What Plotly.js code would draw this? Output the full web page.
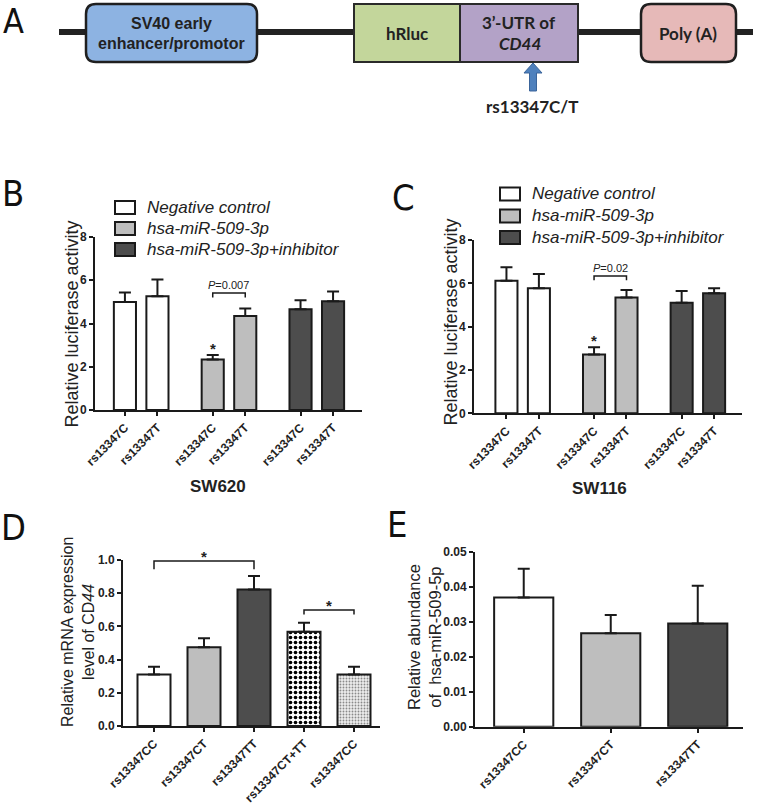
<!DOCTYPE html>
<html><head><meta charset="utf-8">
<script src="https://cdn.plot.ly/plotly-3.0.1.min.js"></script>
<style>body{margin:0;background:#fff}#chart{width:759px;height:806px}</style>
</head><body><div id="chart"></div>
<script>
// ---------- DATA ----------
const alleleLabels = ['rs13347C', 'rs13347T'];
const seriesNames = ['Negative control', 'hsa-miR-509-3p', 'hsa-miR-509-3p+inhibitor'];
// Panel B: SW620
const sw620Negative = [5.00, 5.26];
const sw620NegativeErr = [0.43, 0.77];
const sw620Mir = [2.34, 4.35];
const sw620MirErr = [0.20, 0.34];
const sw620Inhib = [4.66, 5.03];
const sw620InhibErr = [0.42, 0.45];
// Panel C: SW116
const sw116Negative = [6.12, 5.77];
const sw116NegativeErr = [0.62, 0.66];
const sw116Mir = [2.72, 5.35];
const sw116MirErr = [0.33, 0.34];
const sw116Inhib = [5.10, 5.54];
const sw116InhibErr = [0.54, 0.23];
// Panel D: CD44 mRNA
const genotypeLabelsD = ['rs13347CC', 'rs13347CT', 'rs13347TT', 'rs13347CT+TT', 'rs13347CC'];
const cd44Expr = [0.31, 0.474, 0.823, 0.568, 0.31];
const cd44Err = [0.047, 0.054, 0.081, 0.054, 0.047];
// Panel E: hsa-miR-509-5p abundance
const genotypeLabelsE = ['rs13347CC', 'rs13347CT', 'rs13347TT'];
const mirAbundance = [0.0369, 0.0267, 0.0295];
const mirAbundanceErr = [0.0082, 0.0052, 0.0108];

// ---------- STYLE ----------
const W = 759, H = 806;
const px = x => x / W;
const py = y => 1 - y / H;
const ARIAL = 'Liberation Sans, Arial, sans-serif';
const CAL = 'Lato, Carlito, sans-serif';
const NARROW = 'Liberation Sans Narrow, DejaVu Sans Condensed, sans-serif';
const INK = '#1a1a1a';
const fills = ['#ffffff', '#bebebe', '#4d4d4d'];
const GROUP_STEP = 2.7;

function errY(arr) {
  return {type: 'data', symmetric: false, array: arr, arrayminus: arr.map(() => 0),
          color: INK, thickness: 2, width: 6};
}
function pos(g) { return alleleLabels.map((_, i) => g * GROUP_STEP + i); }

const traces = [];
function luciferaseTraces(means, errs, xa, ya) {
  means.forEach((m, g) => {
    traces.push({type: 'bar', x: pos(g), y: m, name: seriesNames[g], xaxis: xa, yaxis: ya,
      width: 0.68, marker: {color: fills[g], line: {color: INK, width: 2}},
      error_y: errY(errs[g]), showlegend: false});
  });
}
luciferaseTraces([sw620Negative, sw620Mir, sw620Inhib], [sw620NegativeErr, sw620MirErr, sw620InhibErr], 'x', 'y');
luciferaseTraces([sw116Negative, sw116Mir, sw116Inhib], [sw116NegativeErr, sw116MirErr, sw116InhibErr], 'x2', 'y2');

// Panel D: one trace per bar so each bar keeps its own fill / pattern
const dIdx = genotypeLabelsD.map((_, i) => i);
const dFill = ['#ffffff', '#bebebe', '#4d4d4d', '#ffffff', '#ededed'];
const dPattern = [null, null, null,
  {shape: '.', fgcolor: '#000000', bgcolor: '#ffffff', size: 5, solidity: 0.42},
  {shape: '.', fgcolor: '#8a8a8a', bgcolor: '#ededed', size: 3, solidity: 0.3}];
dIdx.forEach(i => {
  const marker = {color: dFill[i], line: {color: INK, width: 2}};
  if (dPattern[i]) marker.pattern = dPattern[i];
  traces.push({type: 'bar', x: [i], y: [cd44Expr[i]], name: genotypeLabelsD[i], xaxis: 'x3', yaxis: 'y3',
    width: 0.66, marker, error_y: errY([cd44Err[i]]), showlegend: false});
});

const eIdx = genotypeLabelsE.map((_, i) => i);
traces.push({type: 'bar', x: eIdx, y: mirAbundance, xaxis: 'x4', yaxis: 'y4', width: 0.68,
  marker: {color: fills, line: {color: INK, width: 2}},
  error_y: errY(mirAbundanceErr), showlegend: false});

// ---------- AXES ----------
const base = {showline: true, linecolor: INK, linewidth: 2, ticks: 'outside', ticklen: 4,
  tickwidth: 2, tickcolor: INK, showgrid: false, zeroline: false, automargin: false, fixedrange: true};
const xTickFont = {family: ARIAL, size: 12, color: '#222', weight: 'bold'};
const yTickFont = {family: ARIAL, size: 12, color: '#222', weight: 'bold'};
const lucPos = [0, 1, 2].flatMap(g => pos(g));
const lucText = [0, 1, 2].flatMap(() => alleleLabels);

function xax(domain, range, vals, text, anchor) {
  return Object.assign({}, base, {domain, range, tickmode: 'array', tickvals: vals, ticktext: text,
    tickangle: -45, tickfont: xTickFont, anchor});
}
function yax(top, bottom, range, dtick, fmt, anchor) {
  return Object.assign({}, base, {domain: [py(bottom), py(top)], range, dtick, tick0: 0,
    tickformat: fmt, tickfont: yTickFont, anchor});
}

// ---------- PANEL A + ANNOTATION SHAPES ----------
function P(x, y) { return px(x).toFixed(5) + ',' + py(y).toFixed(5); }
function rrect(x0, y0, x1, y1, r) {
  return 'M' + P(x0 + r, y0) + 'L' + P(x1 - r, y0) + 'Q' + P(x1, y0) + ' ' + P(x1, y0 + r) +
    'L' + P(x1, y1 - r) + 'Q' + P(x1, y1) + ' ' + P(x1 - r, y1) + 'L' + P(x0 + r, y1) +
    'Q' + P(x0, y1) + ' ' + P(x0, y1 - r) + 'L' + P(x0, y0 + r) + 'Q' + P(x0, y0) + ' ' + P(x0 + r, y0) + 'Z';
}
const shapes = [];
const annotations = [];
const ppr = {xref: 'paper', yref: 'paper'};
shapes.push(Object.assign({type: 'line', x0: px(59), x1: px(753), y0: py(32), y1: py(32),
  line: {color: '#222', width: 6}}, ppr));
shapes.push(Object.assign({type: 'path', path: rrect(86, 4, 257, 62, 10), fillcolor: '#8db3e2',
  line: {color: '#1f1f1f', width: 2.5}}, ppr));
shapes.push(Object.assign({type: 'rect', x0: px(354), x1: px(460), y0: py(4), y1: py(62),
  fillcolor: '#c3d69b', line: {color: '#2a2a2a', width: 2}}, ppr));
shapes.push(Object.assign({type: 'rect', x0: px(460), x1: px(578), y0: py(4), y1: py(62),
  fillcolor: '#b3a2c7', line: {color: '#2a2a2a', width: 2}}, ppr));
shapes.push(Object.assign({type: 'path', path: rrect(641, 4, 736, 62, 10), fillcolor: '#e6b9b8',
  line: {color: '#1f1f1f', width: 2.5}}, ppr));
// arrow
shapes.push(Object.assign({type: 'path',
  path: 'M' + P(529.5, 91) + 'L' + P(529.5, 73) + 'L' + P(524, 73) + 'L' + P(533, 63) + 'L' + P(542, 73) +
        'L' + P(536.5, 73) + 'L' + P(536.5, 91) + 'Z',
  fillcolor: '#4f81bd', line: {color: '#3a649a', width: 1}}, ppr));

// legends (B and C)
function legendBlock(xBox, yRows, xText) {
  yRows.forEach((yc, i) => {
    shapes.push(Object.assign({type: 'rect', x0: px(xBox), x1: px(xBox + 20), y0: py(yc - 6.5), y1: py(yc + 6.5),
      fillcolor: fills[i], line: {color: INK, width: 2}}, ppr));
    annotations.push({xref: 'paper', yref: 'paper', x: px(xText), y: py(yc), xanchor: 'left', yanchor: 'middle',
      text: '<i>' + seriesNames[i] + '</i>', showarrow: false, font: {family: ARIAL, size: 17, color: '#222'}});
  });
}

// brackets in data coords
function bracket(xa, ya, x1, x2, yTop, yLeg) {
  shapes.push({type: 'path', xref: xa, yref: ya,
    path: 'M' + x1 + ',' + yLeg + 'L' + x1 + ',' + yTop + 'L' + x2 + ',' + yTop + 'L' + x2 + ',' + yLeg,
    line: {color: INK, width: 1.5}});
}
bracket('x', 'y', pos(1)[0], pos(1)[1], 5.41, 5.2);
bracket('x2', 'y2', pos(1)[0], pos(1)[1], 6.34, 6.14);
bracket('x3', 'y3', 0, 2, 0.994, 0.944);
bracket('x3', 'y3', 3, 4, 0.699, 0.672);

function txt(x, y, text, font, extra) {
  annotations.push(Object.assign({xref: 'paper', yref: 'paper', x: px(x), y: py(y), text, showarrow: false,
    xanchor: 'center', yanchor: 'middle', font}, extra || {}));
}
legendBlock(115, [207.5, 228.5, 249.5], 145);
legendBlock(500, [194, 216, 237.5], 530);

// panel letters
const letterFont = {family: NARROW, size: 36, color: '#111'};
txt(13, 0, 'A', {family: NARROW, size: 34, color: '#111'}, {yanchor: 'top', borderpad: 0});
txt(13, 194, 'B', letterFont);
txt(404, 197, 'C', letterFont);
txt(13, 527, 'D', letterFont);
txt(397, 524, 'E', letterFont);

// panel A texts
txt(171, 24, 'SV40 early', {family: ARIAL, size: 16, color: '#222', weight: 'bold'});
txt(171, 43, 'enhancer/promotor', {family: ARIAL, size: 16, color: '#222', weight: 'bold'});
txt(407, 33, 'hRluc', {family: CAL, size: 17, color: '#222', weight: 'bold'});
txt(519, 22, '3\u2019-UTR of', {family: CAL, size: 17, color: '#222', weight: 'bold'});
txt(520, 43, '<i>CD44</i>', {family: CAL, size: 17, color: '#222', weight: 'bold'});
txt(688, 33, 'Poly (A)', {family: CAL, size: 17, color: '#222', weight: 'bold'});
txt(532, 107, 'rs13347C/T', {family: CAL, size: 17, color: '#222', weight: 'bold'});

// axis titles
const titleFont = {family: ARIAL, size: 18, color: '#222'};
txt(71, 324.5, 'Relative luciferase activity', titleFont, {textangle: -90});
txt(451, 322.5, 'Relative luciferase activity', titleFont, {textangle: -90});
txt(78, 632, 'Relative mRNA expression<br>level of CD<i>44</i>', {family: ARIAL, size: 16, color: '#222'}, {textangle: -90});
txt(424, 637, 'Relative abundance<br>of  hsa-miR-509-5p', {family: ARIAL, size: 16.5, color: '#222'}, {textangle: -90});
txt(218, 486, 'SW620', {family: ARIAL, size: 17, color: '#222', weight: 'bold'});
txt(599, 488, 'SW116', {family: ARIAL, size: 17, color: '#222', weight: 'bold'});

// stars and p-values (data coords)
const starFont = {family: ARIAL, size: 15, color: '#222', weight: 'bold'};
function dtext(xa, ya, x, y, text, font, shift) {
  annotations.push({xref: xa, yref: ya, x, y, text, showarrow: false, xanchor: 'center', yanchor: 'bottom',
    yshift: shift || 0, font});
}
dtext('x', 'y', pos(1)[0], sw620Mir[0] + sw620MirErr[0], '*', starFont, -4);
dtext('x2', 'y2', pos(1)[0], sw116Mir[0] + sw116MirErr[0], '*', starFont, -4);
const pFont = {family: ARIAL, size: 11, color: '#222'};
dtext('x', 'y', (pos(1)[0] + pos(1)[1]) / 2, 5.41, '<i>P</i>=0.007', pFont, 0);
dtext('x2', 'y2', (pos(1)[0] + pos(1)[1]) / 2, 6.34, '<i>P</i>=0.02', pFont, 0);
dtext('x3', 'y3', 1, 0.994, '*', starFont, -6);
dtext('x3', 'y3', 3.5, 0.699, '*', starFont, -6);

const layout = {
  width: W, height: H, margin: {l: 0, r: 0, t: 0, b: 0},
  paper_bgcolor: '#fff', plot_bgcolor: 'rgba(0,0,0,0)', showlegend: false, barmode: 'overlay',
  xaxis: xax([px(95), px(362)], [-0.92, 7.29], lucPos, lucText, 'y'),
  yaxis: yax(237, 410, [0, 8], 2, 'd', 'x'),
  xaxis2: xax([px(474), px(742)], [-1.0, 7.26], lucPos, lucText, 'y2'),
  yaxis2: yax(240, 413.3, [0, 8], 2, 'd', 'x2'),
  xaxis3: xax([px(123), px(380)], [-0.62, 4.52], dIdx, genotypeLabelsD, 'y3'),
  yaxis3: yax(560, 726, [0, 1], 0.2, '.1f', 'x3'),
  xaxis4: xax([px(475), px(743)], [-0.56, 2.52], eIdx, genotypeLabelsE, 'y4'),
  yaxis4: yax(551.7, 726.7, [0, 0.05], 0.01, '.2f', 'x4'),
  shapes, annotations
};
Plotly.newPlot('chart', traces, layout, {displayModeBar: false, staticPlot: true});
</script></body></html>
